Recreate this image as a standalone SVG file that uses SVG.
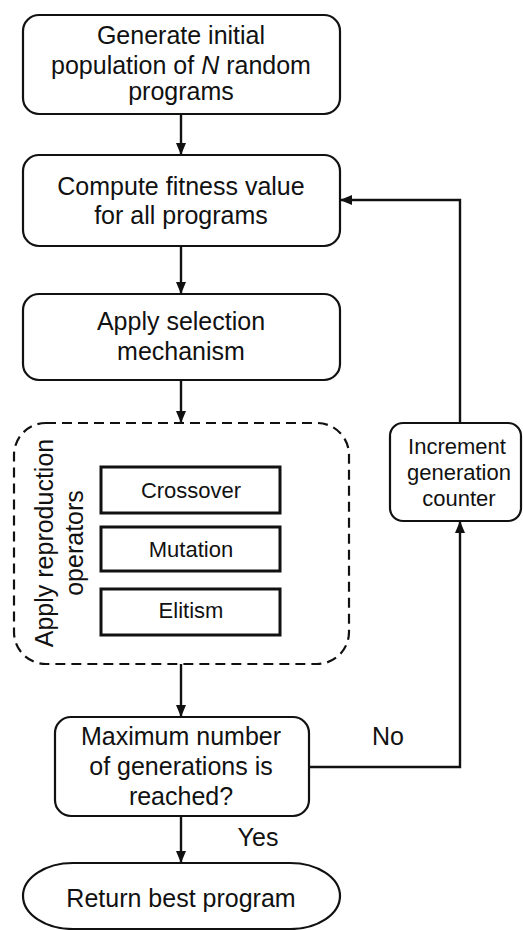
<svg xmlns="http://www.w3.org/2000/svg" width="523" height="930" viewBox="0 0 523 930">
<style>
.box{fill:#fff;stroke:#111;stroke-width:2.2}
.op{fill:#fff;stroke:#111;stroke-width:3}
.dash{fill:none;stroke:#111;stroke-width:2.2;stroke-dasharray:10 6}
.t{font-family:"Liberation Sans",Arial,sans-serif;font-size:25px;fill:#111;text-anchor:middle}
.s{font-size:22px}
.c{fill:none;stroke:#111;stroke-width:2.4}
</style>
<defs>
<marker id="ah" viewBox="0 0 12 12" refX="12" refY="6" markerWidth="12" markerHeight="12" markerUnits="userSpaceOnUse" orient="auto">
<path d="M0,1 L12,6 L0,11 Z" fill="#111"/>
</marker>
</defs>
<rect width="523" height="930" fill="#fff"/>
<g id="connectors">
<line class="c" x1="181" y1="114" x2="181" y2="155" marker-end="url(#ah)"/>
<line class="c" x1="181" y1="246" x2="181" y2="294" marker-end="url(#ah)"/>
<line class="c" x1="181" y1="380" x2="181" y2="423" marker-end="url(#ah)"/>
<line class="c" x1="181" y1="664" x2="181" y2="717" marker-end="url(#ah)"/>
<line class="c" x1="181" y1="816" x2="181" y2="863" marker-end="url(#ah)"/>
<polyline class="c" points="309,767 460,767 460,521" marker-end="url(#ah)"/>
<polyline class="c" points="460,423 460,200 340,200" marker-end="url(#ah)"/>
<text class="t" x="388" y="745">No</text>
<text class="t" x="258" y="846">Yes</text>
</g>
<g id="init">
<rect class="box" x="23" y="15" width="317" height="99" rx="16"/>
<text class="t" x="181" y="44">Generate initial</text>
<text class="t" x="181" y="74">population of <tspan font-style="italic">N</tspan> random</text>
<text class="t" x="181" y="100">programs</text>
</g>
<g id="fitness">
<rect class="box" x="23" y="155" width="317" height="91" rx="16"/>
<text class="t" x="181" y="195">Compute fitness value</text>
<text class="t" x="181" y="224">for all programs</text>
</g>
<g id="selection">
<rect class="box" x="23" y="294" width="317" height="86" rx="16"/>
<text class="t" x="181" y="330">Apply selection</text>
<text class="t" x="181" y="360">mechanism</text>
</g>
<g id="reproduction">
<rect class="dash" x="14" y="423" width="335" height="241" rx="32"/>
<text class="t" transform="translate(53,543) rotate(-90)">Apply reproduction</text>
<text class="t" transform="translate(83,543) rotate(-90)">operators</text>
</g>
<g id="crossover">
<rect class="op" x="101" y="467" width="179" height="46"/>
<text class="t s" x="191" y="498">Crossover</text>
</g>
<g id="mutation">
<rect class="op" x="101" y="527" width="179" height="44"/>
<text class="t s" x="191" y="557">Mutation</text>
</g>
<g id="elitism">
<rect class="op" x="101" y="589" width="179" height="46"/>
<text class="t s" x="191" y="618">Elitism</text>
</g>
<g id="increment">
<rect class="box" x="390" y="423" width="131" height="98" rx="13"/>
<text class="t s" x="457" y="454">Increment</text>
<text class="t s" x="459" y="480">generation</text>
<text class="t s" x="459" y="506">counter</text>
</g>
<g id="decision">
<rect class="box" x="55" y="717" width="254" height="99" rx="16"/>
<text class="t" x="181" y="745">Maximum number</text>
<text class="t" x="181" y="775">of generations is</text>
<text class="t" x="181" y="805">reached?</text>
</g>
<g id="return">
<rect class="box" x="23" y="863" width="317" height="66" rx="50" ry="33"/>
<text class="t" x="181" y="907">Return best program</text>
</g>
</svg>
